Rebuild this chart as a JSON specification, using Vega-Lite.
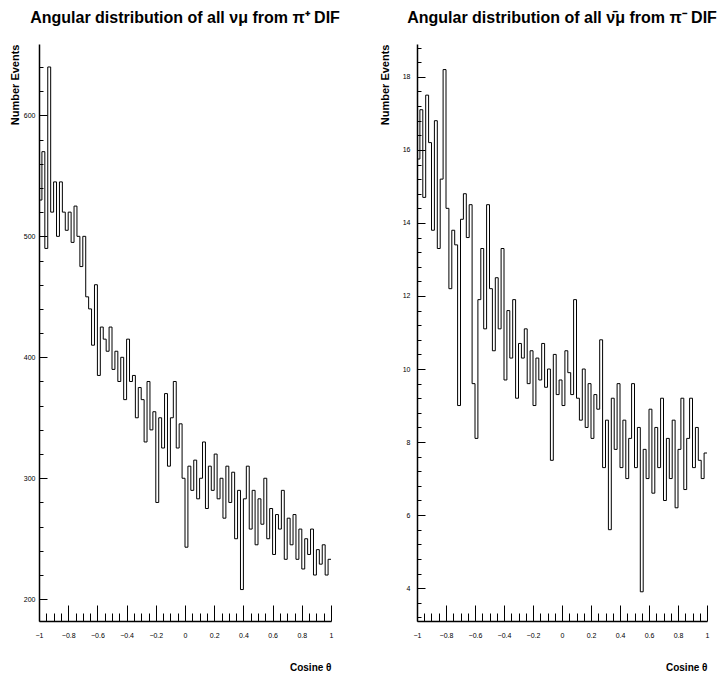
{
  "$schema": "https://vega.github.io/schema/vega-lite/v6.json",
  "padding": {"left": 9, "top": 9, "right": 5, "bottom": 5},
  "background": "white",
  "spacing": 39,
  "config": {
    "view": {"stroke": null},
    "font": "Liberation Sans",
    "axis": {
      "grid": false,
      "domainColor": "black",
      "domainWidth": 1.5,
      "tickColor": "black",
      "tickWidth": 1,
      "labelColor": "black",
      "labelFontSize": 7,
      "labelOverlap": false,
      "labelFlush": false,
      "titleColor": "black",
      "titleFontWeight": "bold"
    },
    "title": {"color": "black", "fontSize": 16, "fontWeight": "bold", "offset": 18}
  },
  "datasets": {
    "nu": [
      {"x0": -1, "n": 530}, {"x0": -0.98, "n": 570}, {"x0": -0.96, "n": 490}, {"x0": -0.94, "n": 640}, {"x0": -0.92, "n": 520},
      {"x0": -0.9, "n": 545}, {"x0": -0.88, "n": 500}, {"x0": -0.86, "n": 545}, {"x0": -0.84, "n": 520}, {"x0": -0.82, "n": 505},
      {"x0": -0.8, "n": 520}, {"x0": -0.78, "n": 495}, {"x0": -0.76, "n": 525}, {"x0": -0.74, "n": 500}, {"x0": -0.72, "n": 475},
      {"x0": -0.7, "n": 500}, {"x0": -0.68, "n": 450}, {"x0": -0.66, "n": 440}, {"x0": -0.64, "n": 410}, {"x0": -0.62, "n": 460},
      {"x0": -0.6, "n": 385}, {"x0": -0.58, "n": 425}, {"x0": -0.56, "n": 415}, {"x0": -0.54, "n": 405}, {"x0": -0.52, "n": 425},
      {"x0": -0.5, "n": 390}, {"x0": -0.48, "n": 405}, {"x0": -0.46, "n": 380}, {"x0": -0.44, "n": 400}, {"x0": -0.42, "n": 365},
      {"x0": -0.4, "n": 415}, {"x0": -0.38, "n": 380}, {"x0": -0.36, "n": 385}, {"x0": -0.34, "n": 350}, {"x0": -0.32, "n": 375},
      {"x0": -0.3, "n": 365}, {"x0": -0.28, "n": 330}, {"x0": -0.26, "n": 380}, {"x0": -0.24, "n": 340}, {"x0": -0.22, "n": 355},
      {"x0": -0.2, "n": 280}, {"x0": -0.18, "n": 350}, {"x0": -0.16, "n": 325}, {"x0": -0.14, "n": 370}, {"x0": -0.12, "n": 310},
      {"x0": -0.1, "n": 350}, {"x0": -0.08, "n": 380}, {"x0": -0.06, "n": 325}, {"x0": -0.04, "n": 345}, {"x0": -0.02, "n": 300},
      {"x0": 0, "n": 243}, {"x0": 0.02, "n": 310}, {"x0": 0.04, "n": 290}, {"x0": 0.06, "n": 315}, {"x0": 0.08, "n": 283},
      {"x0": 0.1, "n": 300}, {"x0": 0.12, "n": 330}, {"x0": 0.14, "n": 275}, {"x0": 0.16, "n": 310}, {"x0": 0.18, "n": 290},
      {"x0": 0.2, "n": 320}, {"x0": 0.22, "n": 283}, {"x0": 0.24, "n": 300}, {"x0": 0.26, "n": 267}, {"x0": 0.28, "n": 310},
      {"x0": 0.3, "n": 280}, {"x0": 0.32, "n": 305}, {"x0": 0.34, "n": 250}, {"x0": 0.36, "n": 290}, {"x0": 0.38, "n": 208},
      {"x0": 0.4, "n": 283}, {"x0": 0.42, "n": 310}, {"x0": 0.44, "n": 258}, {"x0": 0.46, "n": 290}, {"x0": 0.48, "n": 245},
      {"x0": 0.5, "n": 283}, {"x0": 0.52, "n": 262}, {"x0": 0.54, "n": 300}, {"x0": 0.56, "n": 250}, {"x0": 0.58, "n": 275},
      {"x0": 0.6, "n": 237}, {"x0": 0.62, "n": 270}, {"x0": 0.64, "n": 258}, {"x0": 0.66, "n": 290}, {"x0": 0.68, "n": 233},
      {"x0": 0.7, "n": 267}, {"x0": 0.72, "n": 245}, {"x0": 0.74, "n": 270}, {"x0": 0.76, "n": 233}, {"x0": 0.78, "n": 258},
      {"x0": 0.8, "n": 225}, {"x0": 0.82, "n": 250}, {"x0": 0.84, "n": 237}, {"x0": 0.86, "n": 258}, {"x0": 0.88, "n": 220},
      {"x0": 0.9, "n": 241}, {"x0": 0.92, "n": 229}, {"x0": 0.94, "n": 245}, {"x0": 0.96, "n": 220}, {"x0": 0.98, "n": 233},
      {"x0": 1, "n": 233}
    ],
    "nubar": [
      {"x0": -1, "n": 15.75}, {"x0": -0.98, "n": 17.1}, {"x0": -0.96, "n": 14.7}, {"x0": -0.94, "n": 17.5}, {"x0": -0.92, "n": 16.2},
      {"x0": -0.9, "n": 13.8}, {"x0": -0.88, "n": 16.8}, {"x0": -0.86, "n": 13.3}, {"x0": -0.84, "n": 15.2}, {"x0": -0.82, "n": 18.2},
      {"x0": -0.8, "n": 14.4}, {"x0": -0.78, "n": 12.2}, {"x0": -0.76, "n": 13.8}, {"x0": -0.74, "n": 13.4}, {"x0": -0.72, "n": 9.0},
      {"x0": -0.7, "n": 14.1}, {"x0": -0.68, "n": 14.8}, {"x0": -0.66, "n": 13.6}, {"x0": -0.64, "n": 14.5}, {"x0": -0.62, "n": 9.6},
      {"x0": -0.6, "n": 8.1}, {"x0": -0.58, "n": 11.9}, {"x0": -0.56, "n": 13.3}, {"x0": -0.54, "n": 11.1}, {"x0": -0.52, "n": 14.5},
      {"x0": -0.5, "n": 12.2}, {"x0": -0.48, "n": 10.5}, {"x0": -0.46, "n": 12.5}, {"x0": -0.44, "n": 11.1}, {"x0": -0.42, "n": 13.3},
      {"x0": -0.4, "n": 9.7}, {"x0": -0.38, "n": 11.6}, {"x0": -0.36, "n": 10.3}, {"x0": -0.34, "n": 11.9}, {"x0": -0.32, "n": 9.2},
      {"x0": -0.3, "n": 10.7}, {"x0": -0.28, "n": 10.3}, {"x0": -0.26, "n": 11.1}, {"x0": -0.24, "n": 9.6}, {"x0": -0.22, "n": 10.5},
      {"x0": -0.2, "n": 9.0}, {"x0": -0.18, "n": 10.3}, {"x0": -0.16, "n": 9.7}, {"x0": -0.14, "n": 10.7}, {"x0": -0.12, "n": 9.5},
      {"x0": -0.1, "n": 10.0}, {"x0": -0.08, "n": 7.5}, {"x0": -0.06, "n": 10.4}, {"x0": -0.04, "n": 9.3}, {"x0": -0.02, "n": 9.7},
      {"x0": 0, "n": 9.0}, {"x0": 0.02, "n": 10.5}, {"x0": 0.04, "n": 9.9}, {"x0": 0.06, "n": 9.3}, {"x0": 0.08, "n": 11.9},
      {"x0": 0.1, "n": 9.2}, {"x0": 0.12, "n": 8.6}, {"x0": 0.14, "n": 10.0}, {"x0": 0.16, "n": 8.4}, {"x0": 0.18, "n": 9.6},
      {"x0": 0.2, "n": 8.1}, {"x0": 0.22, "n": 9.3}, {"x0": 0.24, "n": 8.9}, {"x0": 0.26, "n": 10.8}, {"x0": 0.28, "n": 7.3},
      {"x0": 0.3, "n": 8.6}, {"x0": 0.32, "n": 5.6}, {"x0": 0.34, "n": 9.2}, {"x0": 0.36, "n": 7.8}, {"x0": 0.38, "n": 9.6},
      {"x0": 0.4, "n": 7.3}, {"x0": 0.42, "n": 8.6}, {"x0": 0.44, "n": 7.0}, {"x0": 0.46, "n": 8.1}, {"x0": 0.48, "n": 9.6},
      {"x0": 0.5, "n": 7.3}, {"x0": 0.52, "n": 8.4}, {"x0": 0.54, "n": 3.9}, {"x0": 0.56, "n": 7.8}, {"x0": 0.58, "n": 7.0},
      {"x0": 0.6, "n": 8.9}, {"x0": 0.62, "n": 6.6}, {"x0": 0.64, "n": 8.4}, {"x0": 0.66, "n": 7.3}, {"x0": 0.68, "n": 9.2},
      {"x0": 0.7, "n": 6.4}, {"x0": 0.72, "n": 8.1}, {"x0": 0.74, "n": 7.0}, {"x0": 0.76, "n": 8.6}, {"x0": 0.78, "n": 6.2},
      {"x0": 0.8, "n": 7.8}, {"x0": 0.82, "n": 9.2}, {"x0": 0.84, "n": 6.7}, {"x0": 0.86, "n": 8.1}, {"x0": 0.88, "n": 9.2},
      {"x0": 0.9, "n": 7.3}, {"x0": 0.92, "n": 8.4}, {"x0": 0.94, "n": 7.5}, {"x0": 0.96, "n": 7.0}, {"x0": 0.98, "n": 7.7},
      {"x0": 1, "n": 7.7}
    ]
  },
  "hconcat": [
    {
      "data": {"name": "nu"},
      "width": 292,
      "height": 577,
      "title": {"text": "Angular distribution of all νμ from π⁺ DIF"},
      "mark": {"type": "line", "interpolate": "step-after", "color": "black", "strokeWidth": 1},
      "encoding": {
        "x": {
          "field": "x0", "type": "quantitative",
          "scale": {"domain": [-1, 1], "nice": false, "zero": false},
          "axis": {
            "title": "Cosine θ", "titleAnchor": "end", "titleFontSize": 10, "titlePadding": 24,
            "values": [-1,-0.95,-0.9,-0.85,-0.8,-0.75,-0.7,-0.65,-0.6,-0.55,-0.5,-0.45,-0.4,-0.35,-0.3,-0.25,-0.2,-0.15,-0.1,-0.05,0,0.05,0.1,0.15,0.2,0.25,0.3,0.35,0.4,0.45,0.5,0.55,0.6,0.65,0.7,0.75,0.8,0.85,0.9,0.95,1],
            "format": "~g",
            "labelExpr": "abs(round(datum.value*100)) % 20 == 0 ? datum.label : ''",
            "tickSize": {"condition": {"test": "abs(round(datum.value*100)) % 20 == 0", "value": -16}, "value": -8},
            "labelPadding": {"condition": {"test": "abs(round(datum.value*100)) % 20 == 0", "value": 26}, "value": 18}
          }
        },
        "y": {
          "field": "n", "type": "quantitative",
          "scale": {"domain": [182, 659], "nice": false, "zero": false},
          "axis": {
            "title": "Number Events", "titleAnchor": "end", "titleFontSize": 11, "titlePadding": 3,
            "values": [200,220,240,260,280,300,320,340,360,380,400,420,440,460,480,500,520,540,560,580,600,620,640],
            "labelExpr": "datum.value % 100 == 0 ? datum.label : ''",
            "tickSize": {"condition": {"test": "datum.value % 100 == 0", "value": -8}, "value": -4},
            "labelPadding": {"condition": {"test": "datum.value % 100 == 0", "value": 12}, "value": 8}
          }
        }
      }
    },
    {
      "data": {"name": "nubar"},
      "width": 290,
      "height": 577,
      "title": {"text": "Angular distribution of all ν̄μ from π⁻ DIF"},
      "mark": {"type": "line", "interpolate": "step-after", "color": "black", "strokeWidth": 1},
      "encoding": {
        "x": {
          "field": "x0", "type": "quantitative",
          "scale": {"domain": [-1, 1], "nice": false, "zero": false},
          "axis": {
            "title": "Cosine θ", "titleAnchor": "end", "titleFontSize": 10, "titlePadding": 24,
            "values": [-1,-0.95,-0.9,-0.85,-0.8,-0.75,-0.7,-0.65,-0.6,-0.55,-0.5,-0.45,-0.4,-0.35,-0.3,-0.25,-0.2,-0.15,-0.1,-0.05,0,0.05,0.1,0.15,0.2,0.25,0.3,0.35,0.4,0.45,0.5,0.55,0.6,0.65,0.7,0.75,0.8,0.85,0.9,0.95,1],
            "format": "~g",
            "labelExpr": "abs(round(datum.value*100)) % 20 == 0 ? datum.label : ''",
            "tickSize": {"condition": {"test": "abs(round(datum.value*100)) % 20 == 0", "value": -16}, "value": -8},
            "labelPadding": {"condition": {"test": "abs(round(datum.value*100)) % 20 == 0", "value": 26}, "value": 18}
          }
        },
        "y": {
          "field": "n", "type": "quantitative",
          "scale": {"domain": [3.1, 18.9], "nice": false, "zero": false},
          "axis": {
            "title": "Number Events", "titleAnchor": "end", "titleFontSize": 11, "titlePadding": 12,
            "values": [3.2,3.6,4,4.4,4.8,5.2,5.6,6,6.4,6.8,7.2,7.6,8,8.4,8.8,9.2,9.6,10,10.4,10.8,11.2,11.6,12,12.4,12.8,13.2,13.6,14,14.4,14.8,15.2,15.6,16,16.4,16.8,17.2,17.6,18,18.4,18.8],
            "format": "~g",
            "labelExpr": "abs(round(datum.value*10)) % 20 == 0 ? datum.label : ''",
            "tickSize": {"condition": {"test": "abs(round(datum.value*10)) % 20 == 0", "value": -8}, "value": -4},
            "labelPadding": {"condition": {"test": "abs(round(datum.value*10)) % 20 == 0", "value": 15}, "value": 8}
          }
        }
      }
    }
  ]
}
